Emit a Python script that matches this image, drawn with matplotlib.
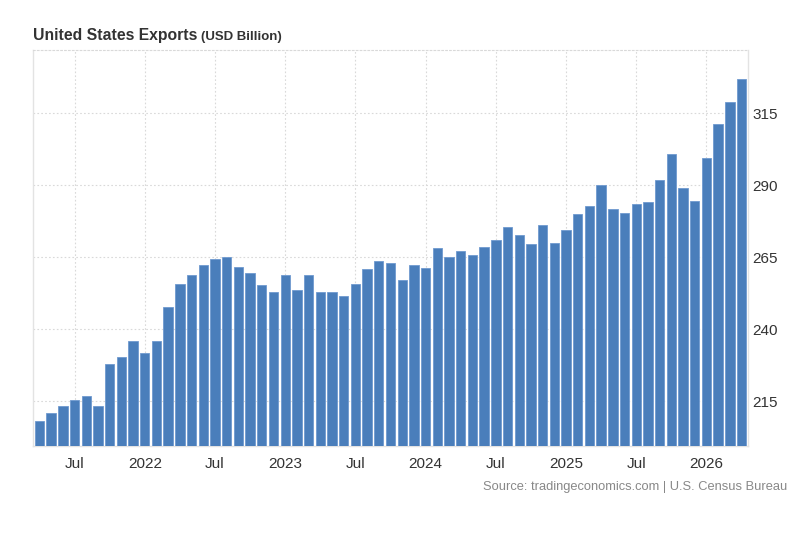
import matplotlib.pyplot as plt
import pandas as pd

# monthly exports, USD billion
months = pd.date_range("2021-04-01", "2026-04-01", freq="MS")
exports = [
    208.2, 211.0, 213.3, 215.6, 217.0, 213.3, 228.1, 230.4, 235.9, 231.8,
    235.9, 247.9, 255.8, 259.0, 262.2, 264.4, 265.0, 261.8, 259.5, 255.3,
    253.0, 259.0, 253.5, 259.0, 253.0, 253.0, 251.6, 255.8, 260.9, 263.6,
    263.2, 257.2, 262.2, 261.3, 268.3, 265.0, 267.3, 265.9, 268.7, 271.0,
    275.6, 272.9, 269.6, 276.3, 269.9, 274.5, 280.0, 282.8, 290.2, 281.9,
    280.5, 283.7, 284.2, 292.0, 300.8, 289.2, 284.6, 299.4, 311.4, 318.8,
    327.1,
]
y_ticks = [215, 240, 265, 290, 315]

plt.rcParams['font.family'] = ['Liberation Sans', 'DejaVu Sans']

fig = plt.figure(figsize=(8, 5.46), dpi=100)
ax = fig.add_axes([0.04125, 0.1832, 0.89375, 0.7252])

x = list(range(len(months)))
ax.bar(x, exports, width=0.8, color='#4a7ebb', edgecolor='#6f9ad0', linewidth=0.6, zorder=3)

ax.set_xlim(-0.55, len(months) - 0.45)
ax.set_ylim(199.5, 337)

# x ticks on January (year) and July
tick_pos = [i for i, m in enumerate(months) if m.month in (1, 7)]
tick_lab = [str(months[i].year) if months[i].month == 1 else 'Jul' for i in tick_pos]
ax.set_xticks(tick_pos)
ax.set_xticklabels(tick_lab)

ax.set_yticks(y_ticks)
ax.yaxis.tick_right()
ax.tick_params(axis='both', length=0, labelsize=11, colors='#333333')
ax.tick_params(axis='x', pad=8)
ax.tick_params(axis='y', pad=3)

ax.grid(True, color='#d9d9d9', linestyle=(0, (1.5, 2)), linewidth=0.8, zorder=0)

for side in ['left', 'right', 'bottom']:
    ax.spines[side].set_color('#e3e3e3')
    ax.spines[side].set_linewidth(1)
ax.spines['top'].set_color('#d9d9d9')
ax.spines['top'].set_linestyle((0, (1.5, 2)))
ax.spines['top'].set_linewidth(0.8)

fig.text(0.04125, 0.927, 'United States Exports', fontsize=11.3, fontweight='bold',
         color='#333333', ha='left', va='baseline')
fig.text(0.251, 0.927, '(USD Billion)', fontsize=9.5, fontweight='bold',
         color='#333333', ha='left', va='baseline')

fig.text(0.984, 0.108, 'Source: tradingeconomics.com | U.S. Census Bureau', fontsize=9.3,
         color='#888888', ha='right', va='center')

fig.savefig('out.png', dpi=100)
